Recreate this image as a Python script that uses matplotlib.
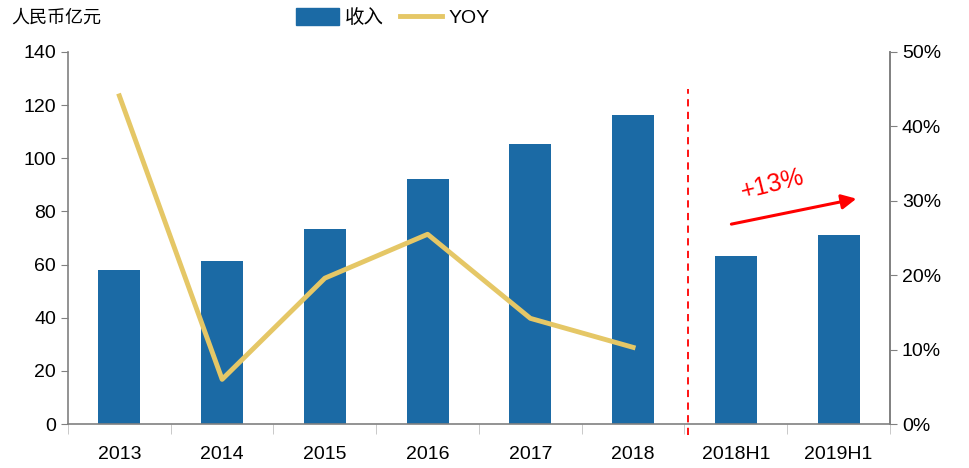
import matplotlib
matplotlib.use("Agg")
import matplotlib.pyplot as plt
import numpy as np
from matplotlib.patches import Patch
from matplotlib.lines import Line2D

plt.rcParams['font.family'] = ['Liberation Sans', 'Noto Sans CJK SC', 'DejaVu Sans']

# data
categories = ['2013', '2014', '2015', '2016', '2017', '2018', '2018H1', '2019H1']
revenue = [58.0, 61.3, 73.4, 92.2, 105.4, 116.3, 63.2, 71.1]
yoy = [44.1, 6.0, 19.6, 25.5, 14.2, 10.3]   # %, 2013-2018

bar_color = '#1B6AA5'
line_color = '#E5C766'
gray = '#808080'

fig = plt.figure(figsize=(9.7, 4.68), dpi=100)
ax = fig.add_axes([0.0701, 0.094, 0.8474, 0.795])
x = np.arange(len(categories))
ax.bar(x, revenue, width=0.41, color=bar_color, zorder=2)
ax.set_xlim(-0.5, len(categories) - 0.5)
ax.set_ylim(0, 140)
ax.set_yticks(np.arange(0, 141, 20))
ax.tick_params(axis='y', labelsize=14, length=5, color=gray, direction='out')

ax.set_xticks(x)
ax.set_xticklabels(categories, fontsize=14)
ax.tick_params(axis='x', which='major', length=0, pad=16)
ax.set_xticks(np.arange(-0.5, len(categories), 1.0), minor=True)
ax.tick_params(axis='x', which='minor', length=7, color='#c0c0c0')

ax.spines['top'].set_visible(False)
for s in ['left', 'bottom', 'right']:
    ax.spines[s].set_color(gray)
    ax.spines[s].set_linewidth(1.2)

ax2 = ax.twinx()
ax2.plot(x[:len(yoy)], yoy, color=line_color, lw=3.5, zorder=3)
ax2.set_ylim(0, 50)
ax2.set_yticks(np.arange(0, 51, 10))
ax2.set_yticklabels([f'{v}%' for v in range(0, 51, 10)])
ax2.tick_params(axis='y', labelsize=14, length=5, color=gray)
ax2.spines['top'].set_visible(False)
ax2.spines['right'].set_color(gray)
ax2.spines['right'].set_linewidth(1.2)
ax2.spines['left'].set_visible(False)
ax2.spines['bottom'].set_visible(False)

# separator
ax.plot([5.53, 5.53], [-4, 126], color='red', lw=1.3, ls=(0, (4, 3)),
        clip_on=False, zorder=4)

# growth arrow
ax.annotate('', xy=(7.2, 85.0), xytext=(5.93, 75.0),
            arrowprops=dict(arrowstyle='-|>', color='red', lw=2.2,
                            mutation_scale=22))
ax.text(6.36, 90, '+13%', color='red', fontsize=18, rotation=14,
        ha='center', va='center')

# unit label and legend
fig.text(0.012, 0.962, '人民币亿元', fontsize=13, family=['Noto Sans CJK SC'],
         va='center', ha='left')
handles = [Patch(color=bar_color, label='收入'),
           Line2D([0], [0], color=line_color, lw=3.5, label='YOY')]
fig.legend(handles=handles, loc='center', bbox_to_anchor=(0.405, 0.962),
           ncol=2, frameon=False, fontsize=14, handlelength=2.2,
           handleheight=0.9, columnspacing=0.8, handletextpad=0.3)

fig.savefig('out.png', dpi=100)
